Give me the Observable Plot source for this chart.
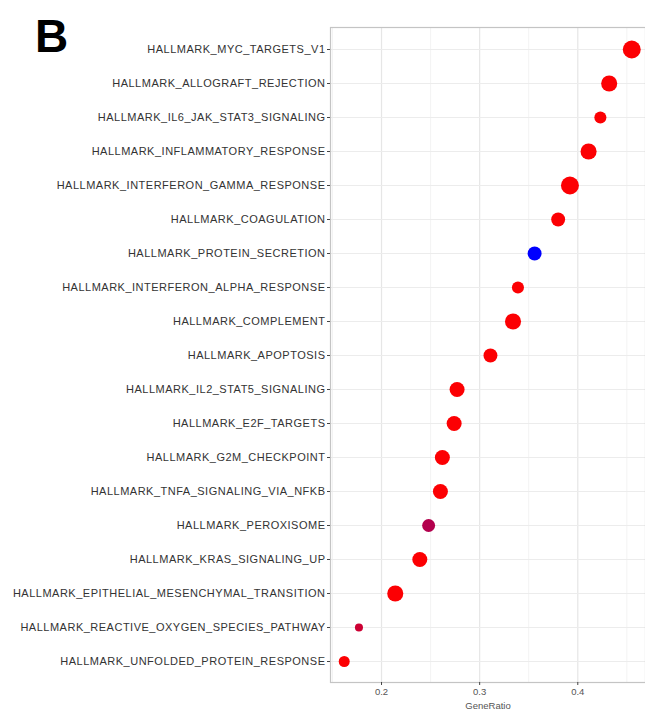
<!DOCTYPE html>
<html>
<head>
<meta charset="utf-8">
<script src="https://cdn.jsdelivr.net/npm/d3@7"></script>
<script src="https://cdn.jsdelivr.net/npm/@observablehq/plot@0.6"></script>
<style>
  html, body { margin: 0; padding: 0; background: #fff; }
  #wrap { position: relative; width: 645px; height: 713px; overflow: hidden; }
  #tag { position: absolute; left: 35px; top: 13px; font: bold 46px "Liberation Sans", Arial, sans-serif; color: #000; line-height: 1; }
  #wrap svg g[aria-label="y-axis tick label"] text { letter-spacing: 0.5px; }
</style>
</head>
<body>
<div id="wrap"><div id="tag">B</div></div>
<script>
const pathways = [
  "HALLMARK_MYC_TARGETS_V1",
  "HALLMARK_ALLOGRAFT_REJECTION",
  "HALLMARK_IL6_JAK_STAT3_SIGNALING",
  "HALLMARK_INFLAMMATORY_RESPONSE",
  "HALLMARK_INTERFERON_GAMMA_RESPONSE",
  "HALLMARK_COAGULATION",
  "HALLMARK_PROTEIN_SECRETION",
  "HALLMARK_INTERFERON_ALPHA_RESPONSE",
  "HALLMARK_COMPLEMENT",
  "HALLMARK_APOPTOSIS",
  "HALLMARK_IL2_STAT5_SIGNALING",
  "HALLMARK_E2F_TARGETS",
  "HALLMARK_G2M_CHECKPOINT",
  "HALLMARK_TNFA_SIGNALING_VIA_NFKB",
  "HALLMARK_PEROXISOME",
  "HALLMARK_KRAS_SIGNALING_UP",
  "HALLMARK_EPITHELIAL_MESENCHYMAL_TRANSITION",
  "HALLMARK_REACTIVE_OXYGEN_SPECIES_PATHWAY",
  "HALLMARK_UNFOLDED_PROTEIN_RESPONSE"
];
const geneRatio = [0.455, 0.432, 0.423, 0.411, 0.392, 0.380, 0.356, 0.339, 0.334, 0.311,
                   0.277, 0.274, 0.262, 0.260, 0.248, 0.239, 0.214, 0.177, 0.162];
const counts =    [92, 78, 48, 78, 92, 62, 62, 48, 78, 62,
                   70, 70, 70, 70, 55, 70, 78, 18, 40];
const padj =      [0.001, 0.001, 0.001, 0.001, 0.001, 0.001, 0.1, 0.001, 0.001, 0.001,
                   0.001, 0.001, 0.001, 0.001, 0.03, 0.001, 0.001, 0.02, 0.001];
const xTicks = [0.2, 0.3, 0.4];
const xMinor = [0.15, 0.25, 0.35, 0.45];

const data = pathways.map((p, i) => ({pathway: p, ratio: geneRatio[i], count: counts[i], padj: padj[i]}));

const chart = Plot.plot({
  width: 645,
  height: 713,
  marginLeft: 330,
  marginRight: 0,
  marginTop: 27,
  marginBottom: 31,
  style: {fontFamily: "'Liberation Sans', Arial, sans-serif", background: "#fff"},
  x: {domain: [0.148, 0.469]},
  y: {type: "point", domain: pathways, padding: 0.6},
  r: {type: "linear", domain: [10, 100], range: [3.5, 9.5]},
  color: {type: "linear", domain: [0, 0.1], range: ["#ff0000", "#0000ff"]},
  marks: [
    Plot.gridX(xMinor, {stroke: "#f3f3f3", strokeOpacity: 1, strokeWidth: 1}),
    Plot.gridX(xTicks, {stroke: "#e6e6e6", strokeOpacity: 1, strokeWidth: 1.2}),
    Plot.gridY({stroke: "#ececec", strokeOpacity: 1, strokeWidth: 1.2}),
    Plot.frame({stroke: "#c4c4c4", strokeWidth: 1.2}),
    Plot.dot(data, {x: "ratio", y: "pathway", r: "count", fill: "padj", stroke: null}),
    Plot.axisY({tickSize: 3, tickPadding: 2, fontSize: 11, fill: "#333", stroke: "#444", label: null}),
    Plot.axisX(xTicks, {tickSize: 3, tickPadding: 3, fontSize: 9.5, fill: "#555", stroke: "#444",
      tickFormat: d3.format(".1f"), label: "GeneRatio", labelAnchor: "center", labelArrow: "none", labelOffset: 26})
  ]
});
document.getElementById("wrap").prepend(chart);
</script>
</body>
</html>
